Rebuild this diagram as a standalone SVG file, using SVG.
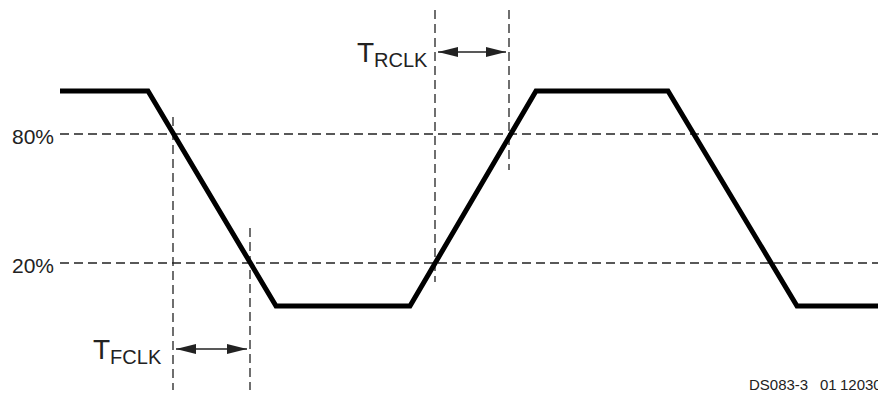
<svg xmlns="http://www.w3.org/2000/svg" width="878" height="393" viewBox="0 0 878 393">
<style>
.dash{stroke:#222;stroke-width:1.3;stroke-dasharray:9,5;fill:none}
.wave{stroke:#000;stroke-width:5;fill:none;stroke-linejoin:miter}
.lbl{font-family:"Liberation Sans",Arial,sans-serif;font-size:21px;fill:#222}
.big{font-family:"Liberation Sans",Arial,sans-serif;font-size:28px;fill:#222}
.sub{font-size:20px}
.arr{stroke:#222;stroke-width:1.5;fill:none}
</style>
<defs>
<marker id="ah" markerWidth="20" markerHeight="10" refX="20" refY="5" orient="auto-start-reverse" markerUnits="userSpaceOnUse">
<path d="M0,0 L20,5 L0,10 Z" fill="#222"/>
</marker>
</defs>
<g id="grid">
<line class="dash" x1="60" y1="134" x2="878" y2="134"/>
<line class="dash" x1="60" y1="263" x2="878" y2="263"/>
<line class="dash" x1="173" y1="117" x2="173" y2="390"/>
<line class="dash" x1="250" y1="228" x2="250" y2="390"/>
<line class="dash" x1="435" y1="10" x2="435" y2="282"/>
<line class="dash" x1="509" y1="10" x2="509" y2="170"/>
</g>
<g id="waveform">
<polyline class="wave" points="60,91 148,91 276,306 410,306 536,91 668,91 797,306 878,306"/>
</g>
<g id="connectors">
<line class="arr" x1="438" y1="52" x2="506" y2="52" marker-start="url(#ah)" marker-end="url(#ah)"/>
<line class="arr" x1="176" y1="349" x2="247" y2="349" marker-start="url(#ah)" marker-end="url(#ah)"/>
</g>
<g id="labels">
<text class="lbl" x="12" y="144">80%</text>
<text class="lbl" x="12" y="273">20%</text>
<text class="big" x="357" y="62">T<tspan class="sub" dy="5">RCLK</tspan></text>
<text class="big" x="93" y="359">T<tspan class="sub" dy="4.5">FCLK</tspan></text>
<text style="font-family:'Liberation Sans',Arial,sans-serif;font-size:15px;fill:#222" y="390"><tspan x="749">DS083-3</tspan><tspan x="820">01</tspan><tspan x="840">120302</tspan></text>
</g>
</svg>
